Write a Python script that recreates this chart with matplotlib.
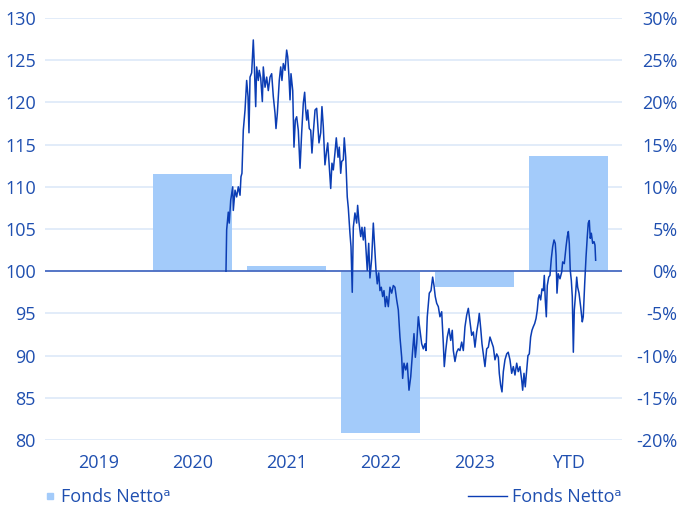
import matplotlib
matplotlib.use("Agg")
import matplotlib.pyplot as plt
from matplotlib.lines import Line2D
import numpy as np

# yearly returns (bars, right axis, %)
categories = ["2019", "2020", "2021", "2022", "2023", "YTD"]
bar_pct = [0.0, 11.5, 0.6, -19.2, -1.9, 13.6]

# indexed fund value (line, left axis), time in decimal years
line_t = [
    2020.882, 2020.889, 2020.906, 2020.916, 2020.931, 2020.952, 2020.958, 2020.976, 2020.993, 2021.010,
    2021.028, 2021.038, 2021.048, 2021.062, 2021.080, 2021.097, 2021.111, 2021.121, 2021.132, 2021.149,
    2021.166, 2021.176, 2021.191, 2021.201, 2021.218, 2021.228, 2021.243, 2021.260, 2021.270, 2021.288,
    2021.305, 2021.322, 2021.340, 2021.357, 2021.374, 2021.392, 2021.402, 2021.416, 2021.436, 2021.451,
    2021.464, 2021.478, 2021.496, 2021.513, 2021.524, 2021.537, 2021.548, 2021.558, 2021.576, 2021.589,
    2021.603, 2021.617, 2021.634, 2021.652, 2021.669, 2021.686, 2021.700, 2021.711, 2021.721, 2021.732,
    2021.748, 2021.763, 2021.776, 2021.790, 2021.808, 2021.825, 2021.836, 2021.849, 2021.867, 2021.880,
    2021.894, 2021.911, 2021.929, 2021.940, 2021.956, 2021.971, 2021.984, 2021.998, 2022.015, 2022.029,
    2022.047, 2022.060, 2022.075, 2022.085, 2022.102, 2022.112, 2022.127, 2022.143, 2022.154, 2022.171,
    2022.182, 2022.195, 2022.206, 2022.223, 2022.241, 2022.251, 2022.265, 2022.283, 2022.296, 2022.310,
    2022.324, 2022.338, 2022.351, 2022.366, 2022.379, 2022.397, 2022.414, 2022.428, 2022.442, 2022.455,
    2022.470, 2022.483, 2022.497, 2022.511, 2022.525, 2022.539, 2022.553, 2022.570, 2022.587, 2022.605,
    2022.622, 2022.639, 2022.657, 2022.674, 2022.691, 2022.709, 2022.719, 2022.733, 2022.751, 2022.767,
    2022.785, 2022.803, 2022.813, 2022.823, 2022.837, 2022.851, 2022.865, 2022.882, 2022.899, 2022.917,
    2022.934, 2022.951, 2022.962, 2022.975, 2022.996, 2023.014, 2023.031, 2023.045, 2023.058, 2023.073,
    2023.090, 2023.107, 2023.125, 2023.135, 2023.142, 2023.152, 2023.167, 2023.183, 2023.201, 2023.219,
    2023.235, 2023.246, 2023.263, 2023.281, 2023.298, 2023.315, 2023.333, 2023.350, 2023.367, 2023.385,
    2023.402, 2023.419, 2023.437, 2023.454, 2023.471, 2023.489, 2023.506, 2023.516, 2023.531, 2023.544,
    2023.558, 2023.575, 2023.593, 2023.610, 2023.627, 2023.645, 2023.662, 2023.679, 2023.697, 2023.714,
    2023.724, 2023.738, 2023.752, 2023.766, 2023.783, 2023.801, 2023.817, 2023.835, 2023.853, 2023.870,
    2023.887, 2023.905, 2023.921, 2023.939, 2023.957, 2023.967, 2023.981, 2023.994, 2024.009, 2024.022,
    2024.036, 2024.050, 2024.064, 2024.077, 2024.092, 2024.106, 2024.119, 2024.130, 2024.140, 2024.154,
    2024.168, 2024.182, 2024.192, 2024.202, 2024.213, 2024.223, 2024.238, 2024.251, 2024.265, 2024.279,
    2024.293, 2024.306, 2024.314, 2024.324, 2024.337, 2024.355, 2024.373, 2024.383, 2024.400, 2024.418,
    2024.431, 2024.442, 2024.452, 2024.462, 2024.473, 2024.483, 2024.494, 2024.504, 2024.518, 2024.529,
    2024.539, 2024.553, 2024.570, 2024.587, 2024.597, 2024.612, 2024.626, 2024.639, 2024.649, 2024.660,
    2024.670, 2024.681, 2024.695, 2024.709, 2024.719, 2024.726,
]
line_val = [
    100.0, 104.9, 107.0, 105.7, 108.4, 110.0, 107.2, 109.6, 108.8, 110.0,
    109.0, 111.2, 111.6, 116.7, 119.1, 122.6, 120.7, 116.4, 123.0, 123.5,
    127.4, 124.6, 119.5, 124.2, 122.6, 123.8, 122.9, 120.1, 124.2, 121.8,
    123.0, 121.4, 123.0, 123.4, 120.7, 118.7, 116.9, 118.7, 122.6, 124.2,
    122.6, 124.6, 123.8, 126.2, 125.4, 123.0, 120.3, 123.4, 121.4, 114.7,
    117.9, 118.3, 116.7, 112.2, 116.4, 119.9, 121.2, 119.1, 117.9, 119.1,
    116.9, 116.7, 114.0, 116.4, 119.1, 119.3, 117.5, 115.2, 116.4, 119.5,
    117.1, 112.6, 114.3, 115.2, 112.4, 109.8, 112.8, 112.0, 114.0, 115.8,
    113.5, 114.7, 111.6, 113.0, 113.2, 115.8, 113.5, 108.8, 107.5, 104.5,
    102.9, 97.5, 105.2, 106.9, 105.7, 107.8, 105.8, 104.1, 105.2, 103.7,
    105.2, 102.5, 100.1, 103.3, 99.2, 101.5, 105.7, 102.9, 100.1, 98.5,
    99.8, 97.7, 98.1, 97.0, 97.7, 95.8, 97.0, 95.8, 98.1, 97.4,
    98.3, 98.1, 96.6, 95.4, 92.2, 89.8, 87.3, 89.1, 88.3, 89.1,
    85.9, 87.5, 89.1, 90.6, 92.6, 89.8, 91.4, 94.6, 93.0, 91.4,
    90.8, 91.4, 90.6, 94.6, 97.4, 97.7, 99.3, 98.3, 97.0, 96.2,
    95.8, 94.6, 95.2, 93.0, 91.4, 88.7, 90.6, 92.2, 93.2, 91.8,
    93.0, 90.6, 89.3, 90.4, 90.8, 90.6, 91.6, 90.6, 93.4, 94.8,
    95.6, 94.0, 92.4, 92.8, 91.0, 92.8, 94.0, 95.0, 93.2, 91.4,
    90.2, 88.7, 90.8, 91.0, 92.2, 91.6, 91.0, 89.5, 90.2, 89.8,
    87.9, 86.5, 85.7, 88.1, 89.5, 90.2, 90.4, 89.5, 87.9, 88.7,
    87.7, 89.1, 88.1, 88.7, 87.1, 85.9, 87.9, 86.3, 88.3, 90.0,
    90.2, 92.2, 93.0, 93.4, 93.8, 94.4, 95.4, 96.8, 97.2, 96.6,
    97.9, 97.7, 99.5, 96.6, 94.6, 98.3, 99.3, 99.5, 101.5, 102.9,
    103.7, 103.3, 101.9, 97.4, 99.7, 99.1, 99.9, 101.1, 100.9, 102.9,
    104.1, 104.7, 103.3, 100.1, 98.9, 97.0, 90.4, 95.4, 97.4, 99.3,
    98.1, 97.4, 95.8, 94.0, 94.6, 98.5, 101.7, 104.1, 105.7, 106.0,
    103.9, 104.5, 103.3, 103.5, 103.1, 101.3,
]

TEXT = "#1f4fb0"
BAR = "#a3cbfa"
LINE = "#0b3db4"
GRID = "#dde9f8"
FONT = ["Open Sans", "DejaVu Sans"]

plt.rcParams["font.family"] = FONT
plt.rcParams["font.size"] = 13

fig = plt.figure(figsize=(6.81, 5.12), dpi=100)
rect = [45 / 681, 1 - 440 / 512, 577 / 681, 422 / 512]

# bars + grid on the category axis (right-hand % scale)
axb = fig.add_axes(rect)
x = np.arange(len(categories))
axb.bar(x, bar_pct, width=0.84, color=BAR, zorder=2)
axb.set_xlim(-0.565, len(categories) - 1 + 0.565)
axb.set_ylim(-20, 30)
axb.set_yticks(np.arange(-20, 31, 5))
axb.set_yticklabels([f"{v}%" for v in range(-20, 31, 5)])
axb.yaxis.tick_right()
axb.tick_params(axis="y", length=0, pad=40, labelcolor=TEXT)
for lbl in axb.get_yticklabels():
    lbl.set_horizontalalignment("right")
axb.set_xticks(x)
axb.set_xticklabels(categories)
axb.tick_params(axis="x", length=0, pad=10, labelcolor=TEXT)
axb.grid(axis="y", color=GRID, lw=1.2, zorder=0)
axb.set_axisbelow(True)
for s in axb.spines.values():
    s.set_visible(False)

# index line on a time axis spanning the full width (left scale)
axl = fig.add_axes(rect)
axl.patch.set_visible(False)
axl.axhline(100, color="#4a6cc2", lw=1.3, zorder=3)
axl.plot(line_t, line_val, color=LINE, lw=1.1, zorder=4)
axl.set_xlim(2019, 2025)
axl.set_ylim(80, 130)
axl.set_yticks(np.arange(80, 131, 5))
axl.tick_params(axis="y", length=0, pad=6.5, labelcolor=TEXT)
axl.set_xticks([])
for s in axl.spines.values():
    s.set_visible(False)

h_bar = Line2D([], [], marker="s", linestyle="none", color=BAR, markersize=4)
h_line = Line2D([], [], color=LINE, lw=1.0)
fig.legend([h_bar], ["Fonds Netto\u1d43"], loc="center left",
           bbox_to_anchor=(45 / 681, 1 - 497 / 512), frameon=False,
           handlelength=0.6, handletextpad=0.29, borderpad=0, borderaxespad=0,
           labelcolor=TEXT, fontsize=13)
fig.legend([h_line], ["Fonds Netto\u1d43"], loc="center right",
           bbox_to_anchor=(622 / 681, 1 - 497 / 512), frameon=False,
           handlelength=2.2, handletextpad=0.28, borderpad=0, borderaxespad=0,
           labelcolor=TEXT, fontsize=13)

fig.savefig("out.png", dpi=100)
